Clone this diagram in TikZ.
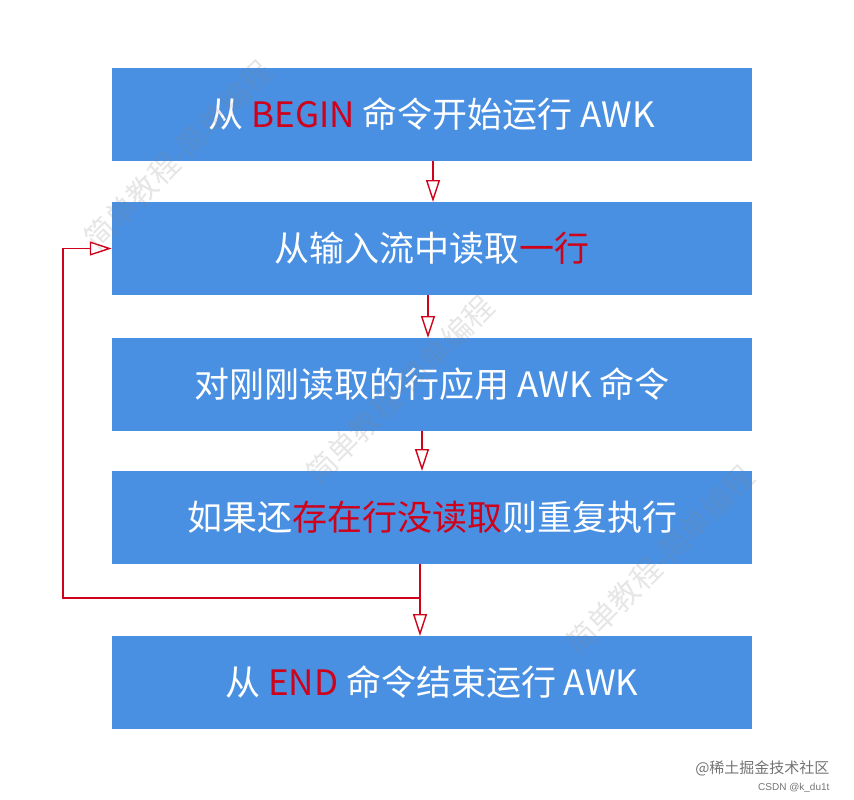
\documentclass[tikz,border=0pt]{standalone}
\usepackage{fontspec}
\setmainfont{Liberation Sans}
\newfontfamily\cjk{Noto Sans CJK SC}
\usetikzlibrary{arrows.meta}
\definecolor{boxblue}{HTML}{4A90E2}
\definecolor{lred}{HTML}{D0021B}
\tikzset{
  stepbox/.style={fill=boxblue, minimum width=640pt, minimum height=93pt, inner sep=0pt, text=white, font=\cjk\fontsize{35pt}{40pt}\selectfont},
  conn/.style={draw=lred, line width=1.4pt, -{Triangle[open, width=14pt, length=22pt]}},
  wm/.style={text=gray, text opacity=0.2, font=\cjk\fontsize{30pt}{34pt}\selectfont, rotate=45}
}
\newcommand{\rd}[1]{\textcolor{lred}{#1}}
\begin{document}
\begin{tikzpicture}[x=1pt,y=-1pt]
\useasboundingbox (0,0) rectangle (854,800);
\node[stepbox] (b1) at (432,114.5) {从 \rd{BEGIN} 命令开始运行 AWK};
\node[stepbox] (b2) at (432,248.5) {从输入流中读取\rd{一行}};
\node[stepbox] (b3) at (432,384.5) {对刚刚读取的行应用 AWK 命令};
\node[stepbox] (b4) at (432,517.5) {如果还\rd{存在行没读取}则重复执行};
\node[stepbox] (b5) at (432,682.5) {从 \rd{END} 命令结束运行 AWK};
\draw[conn] (433,161) -- (433,202);
\draw[conn] (428,295) -- (428,338);
\draw[conn] (422,431) -- (422,471);
\coordinate (s) at (420,564);
\coordinate (m) at (420,598);
\coordinate (l1) at (63,598);
\coordinate (l2) at (63,248.5);
\draw[conn] (s) -- (420,636);
\draw[conn] (m) -- (l1) -- (l2) -- (b2.west);
\node[wm] (m1) at (178,155) {简单教程-简单编程};
\node[wm] (m2) at (400,390) {简单教程-简单编程};
\node[wm] (m3) at (660,560) {简单教程-简单编程};
\node[anchor=east, text=black!55, font=\cjk\fontsize{15pt}{18pt}\selectfont] (w1) at (833,768) {@稀土掘金技术社区};
\node[anchor=east, text=black!55, font=\fontsize{10pt}{12pt}\selectfont] (w2) at (833,788) {CSDN @k\_du1t};
\end{tikzpicture}
\end{document}
